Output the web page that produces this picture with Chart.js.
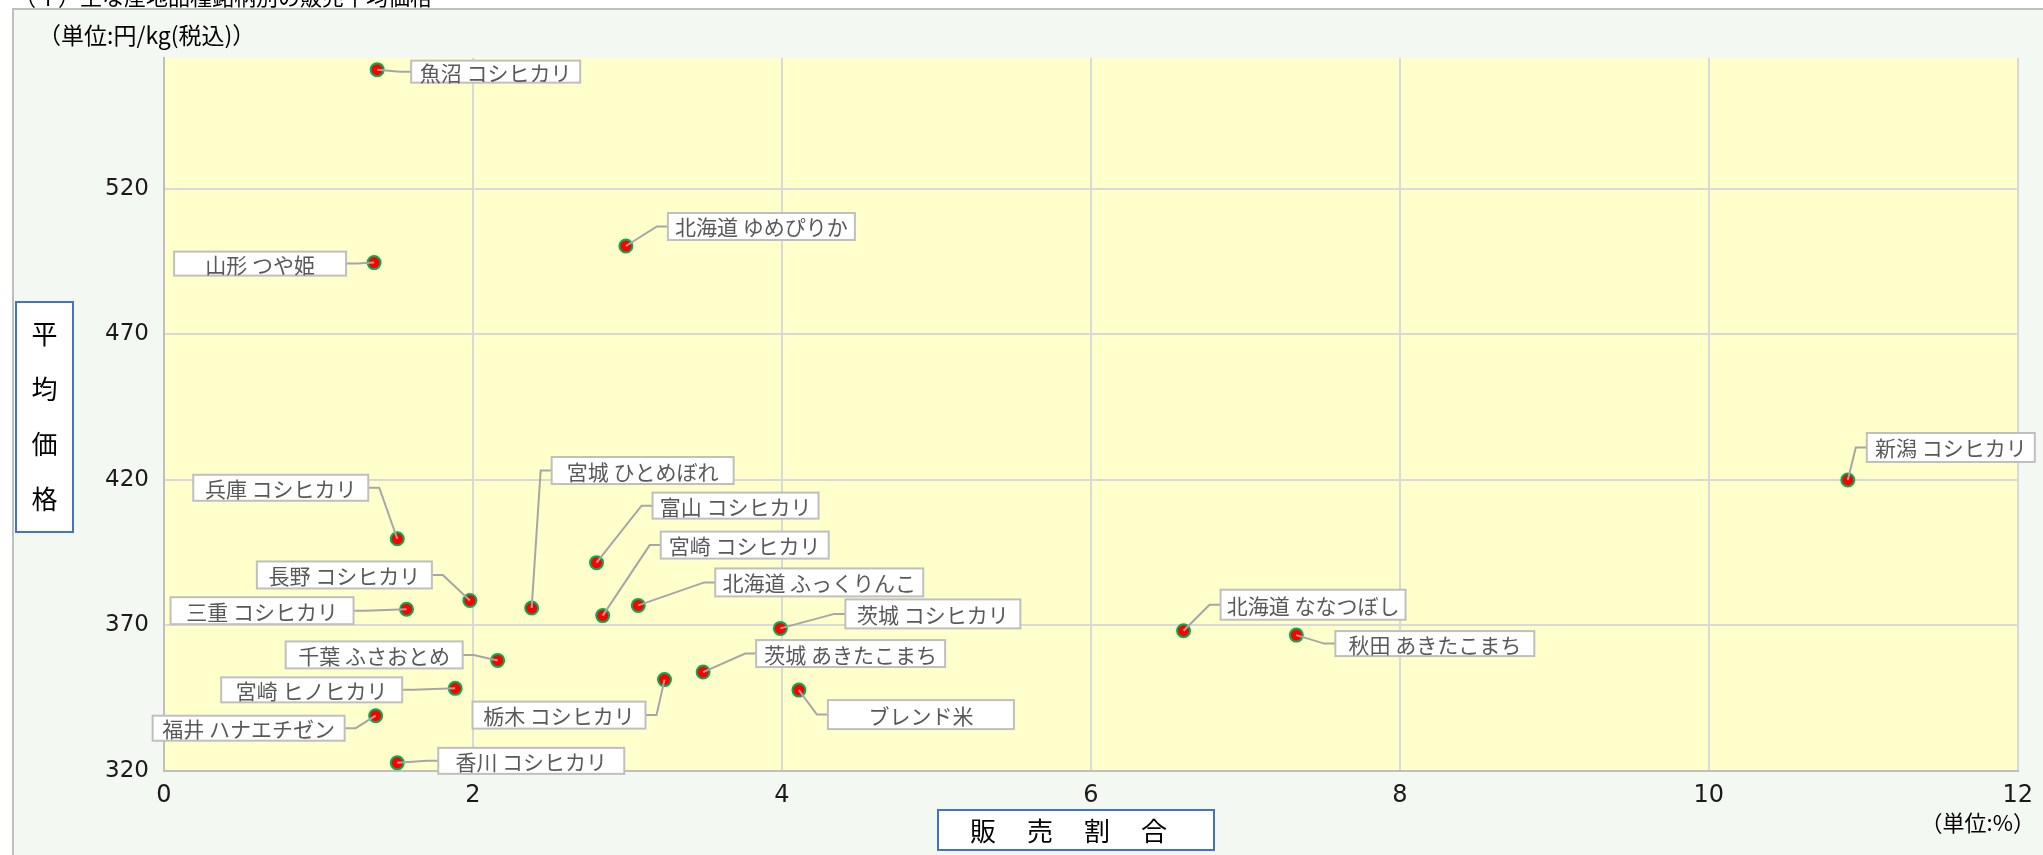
<!DOCTYPE html>
<html><head><meta charset="utf-8">
<script src="https://cdn.jsdelivr.net/npm/chart.js@4"></script>
<style>html,body{margin:0;padding:0;background:#fff;}canvas{display:block;}</style>
</head><body>
<canvas id="c" width="2043" height="855"></canvas>
<script>
// ---- data ----
const names = ['魚沼 コシヒカリ','北海道 ゆめぴりか','山形 つや姫','新潟 コシヒカリ','兵庫 コシヒカリ','富山 コシヒカリ','長野 コシヒカリ','宮城 ひとめぼれ','三重 コシヒカリ','宮崎 コシヒカリ','北海道 ふっくりんこ','茨城 コシヒカリ','北海道 ななつぼし','秋田 あきたこまち','千葉 ふさおとめ','茨城 あきたこまち','栃木 コシヒカリ','宮崎 ヒノヒカリ','ブレンド米','福井 ハナエチゼン','香川 コシヒカリ'];
const shares = [1.38, 2.99, 1.36, 10.90, 1.51, 2.80, 1.98, 2.38, 1.57, 2.84, 3.07, 3.99, 6.60, 7.33, 2.16, 3.49, 3.24, 1.885, 4.11, 1.37, 1.51];
const prices = [561, 500.4, 494.7, 420, 399.8, 391.6, 378.6, 376.0, 375.6, 373.4, 376.9, 369.0, 368.2, 366.7, 358.0, 354.0, 351.4, 348.4, 347.8, 339.0, 322.8];
const xTicks = [0, 2, 4, 6, 8, 10, 12];
const yTicks = [320, 370, 420, 470, 520];

// ---- label layout (pixel offsets of each label box from its point: dx, dy, width, height) ----
const labelBoxes = [
  [34,-9,169,22],[42,-33,187,27],[-200,-11,172,24],[19,-47,168,29],[-204,-64,175,26],
  [56,-70,166,26],[-213,-39,175,27],[20,-151,182,27],[-236,-12,183,27],[58,-84,168,27],
  [77,-37,208,28],[65,-29,175,29],[37,-41,185,30],[39,-4,199,25],[-212,-19,177,27],
  [53,-32,189,27],[-192,22,173,27],[-234,-11,181,25],[29,10,186,29],[-223,0,192,25],[41,-15,186,26]
];

const JP = '"Noto Sans CJK JP", "Noto Sans", sans-serif';
const NUM = '"DejaVu Sans", sans-serif';

const bgPlugin = {
  id: 'bg',
  beforeDraw(chart) {
    const c = chart.ctx, a = chart.chartArea;
    c.save();
    c.fillStyle = '#ffffff';
    c.fillRect(0, 0, chart.width, chart.height);
    // top title (cut off)
    c.fillStyle = '#000';
    c.font = '22px ' + JP;
    c.textBaseline = 'alphabetic';
    c.textAlign = 'left';
    c.fillText('（イ）主な産地品種銘柄別の販売平均価格', 14, 5);
    // chart area frame
    c.fillStyle = '#F4F8F2';
    c.fillRect(13, 9, chart.width, chart.height);
    c.strokeStyle = '#BFBFBF';
    c.lineWidth = 2;
    c.strokeRect(13, 9, chart.width + 10, chart.height + 10);
    // plot area
    c.fillStyle = '#FFFFCC';
    c.fillRect(a.left, a.top, a.right - a.left, a.bottom - a.top);
    c.restore();
  }
};

const labelPlugin = {
  id: 'labels',
  afterDatasetsDraw(chart) {
    const c = chart.ctx;
    const meta = chart.getDatasetMeta(0);
    c.save();
    meta.data.forEach((pt, i) => {
      const [dx, dy, w, h] = labelBoxes[i];
      const bx = pt.x + dx, by = pt.y + dy;
      const midY = by + h / 2;
      let ax, ex;
      if (bx + w / 2 > pt.x) { ax = bx; ex = bx - 11; } else { ax = bx + w; ex = bx + w + 11; }
      c.strokeStyle = '#A6A6A6';
      c.lineWidth = 2;
      c.beginPath();
      c.moveTo(pt.x, pt.y);
      c.lineTo(ex, midY);
      c.lineTo(ax, midY);
      c.stroke();
      c.fillStyle = '#ffffff';
      c.fillRect(bx, by, w, h);
      c.strokeStyle = '#BFBFBF';
      c.lineWidth = 2;
      c.strokeRect(bx, by, w, h);
      c.fillStyle = '#595959';
      c.font = '21px ' + JP;
      c.textAlign = 'center';
      c.textBaseline = 'middle';
      c.fillText(names[i], bx + w / 2, midY + 1);
    });
    c.restore();
  },
  afterDraw(chart) {
    const c = chart.ctx;
    c.save();
    c.fillStyle = '#000';
    c.textBaseline = 'middle';
    c.textAlign = 'left';
    c.font = '23px ' + JP;
    c.fillText('（単位:円/kg(税込)）', 38, 35);
    // y title box
    c.fillStyle = '#fff';
    c.fillRect(16, 302, 57, 230);
    c.strokeStyle = '#4472C4';
    c.lineWidth = 2;
    c.strokeRect(16, 302, 57, 230);
    c.fillStyle = '#000';
    c.font = '26px ' + JP;
    c.textAlign = 'center';
    ['平','均','価','格'].forEach((ch, k) => c.fillText(ch, 44.5, 334 + k * 55));
    // x title box
    c.fillStyle = '#fff';
    c.fillRect(938, 810, 276, 40);
    c.strokeRect(938, 810, 276, 40);
    c.fillStyle = '#000';
    ['販','売','割','合'].forEach((ch, k) => c.fillText(ch, 983 + k * 57, 831));
    // unit %
    c.font = '22px ' + JP;
    c.textAlign = 'right';
    c.fillText('（単位:%）', 2035, 823);
    c.restore();
  }
};

new Chart(document.getElementById('c'), {
  type: 'scatter',
  data: {
    datasets: [{
      data: shares.map((x, i) => ({ x, y: prices[i] })),
      pointRadius: 6.5,
      pointBackgroundColor: '#FF0000',
      pointBorderColor: '#00B050',
      pointBorderWidth: 2
    }]
  },
  options: {
    responsive: false,
    animation: false,
    devicePixelRatio: 1,
    layout: { padding: { left: 0, top: 58, right: 22, bottom: 0 } },
    plugins: { legend: { display: false }, tooltip: { enabled: false } },
    scales: {
      x: {
        type: 'linear', min: 0, max: 12,
        afterBuildTicks(a) { a.ticks = xTicks.map(v => ({ value: v })); },
        ticks: { font: { size: 24, family: NUM }, color: '#1a1a1a', padding: 10 },
        grid: { color: '#D9D9D9', lineWidth: 2, drawTicks: false },
        border: { color: '#BFBFBF', width: 2 },
        afterFit(a) { a.height = 84; }
      },
      y: {
        type: 'linear', min: 320, max: 565,
        afterBuildTicks(a) { a.ticks = yTicks.map(v => ({ value: v })); },
        ticks: { font: { size: 23, family: NUM }, color: '#1a1a1a', padding: 15 },
        grid: { color: '#D9D9D9', lineWidth: 2, drawTicks: false },
        border: { color: '#BFBFBF', width: 2 },
        afterFit(a) { a.width = 164; }
      }
    }
  },
  plugins: [bgPlugin, labelPlugin]
});
</script>
</body></html>
